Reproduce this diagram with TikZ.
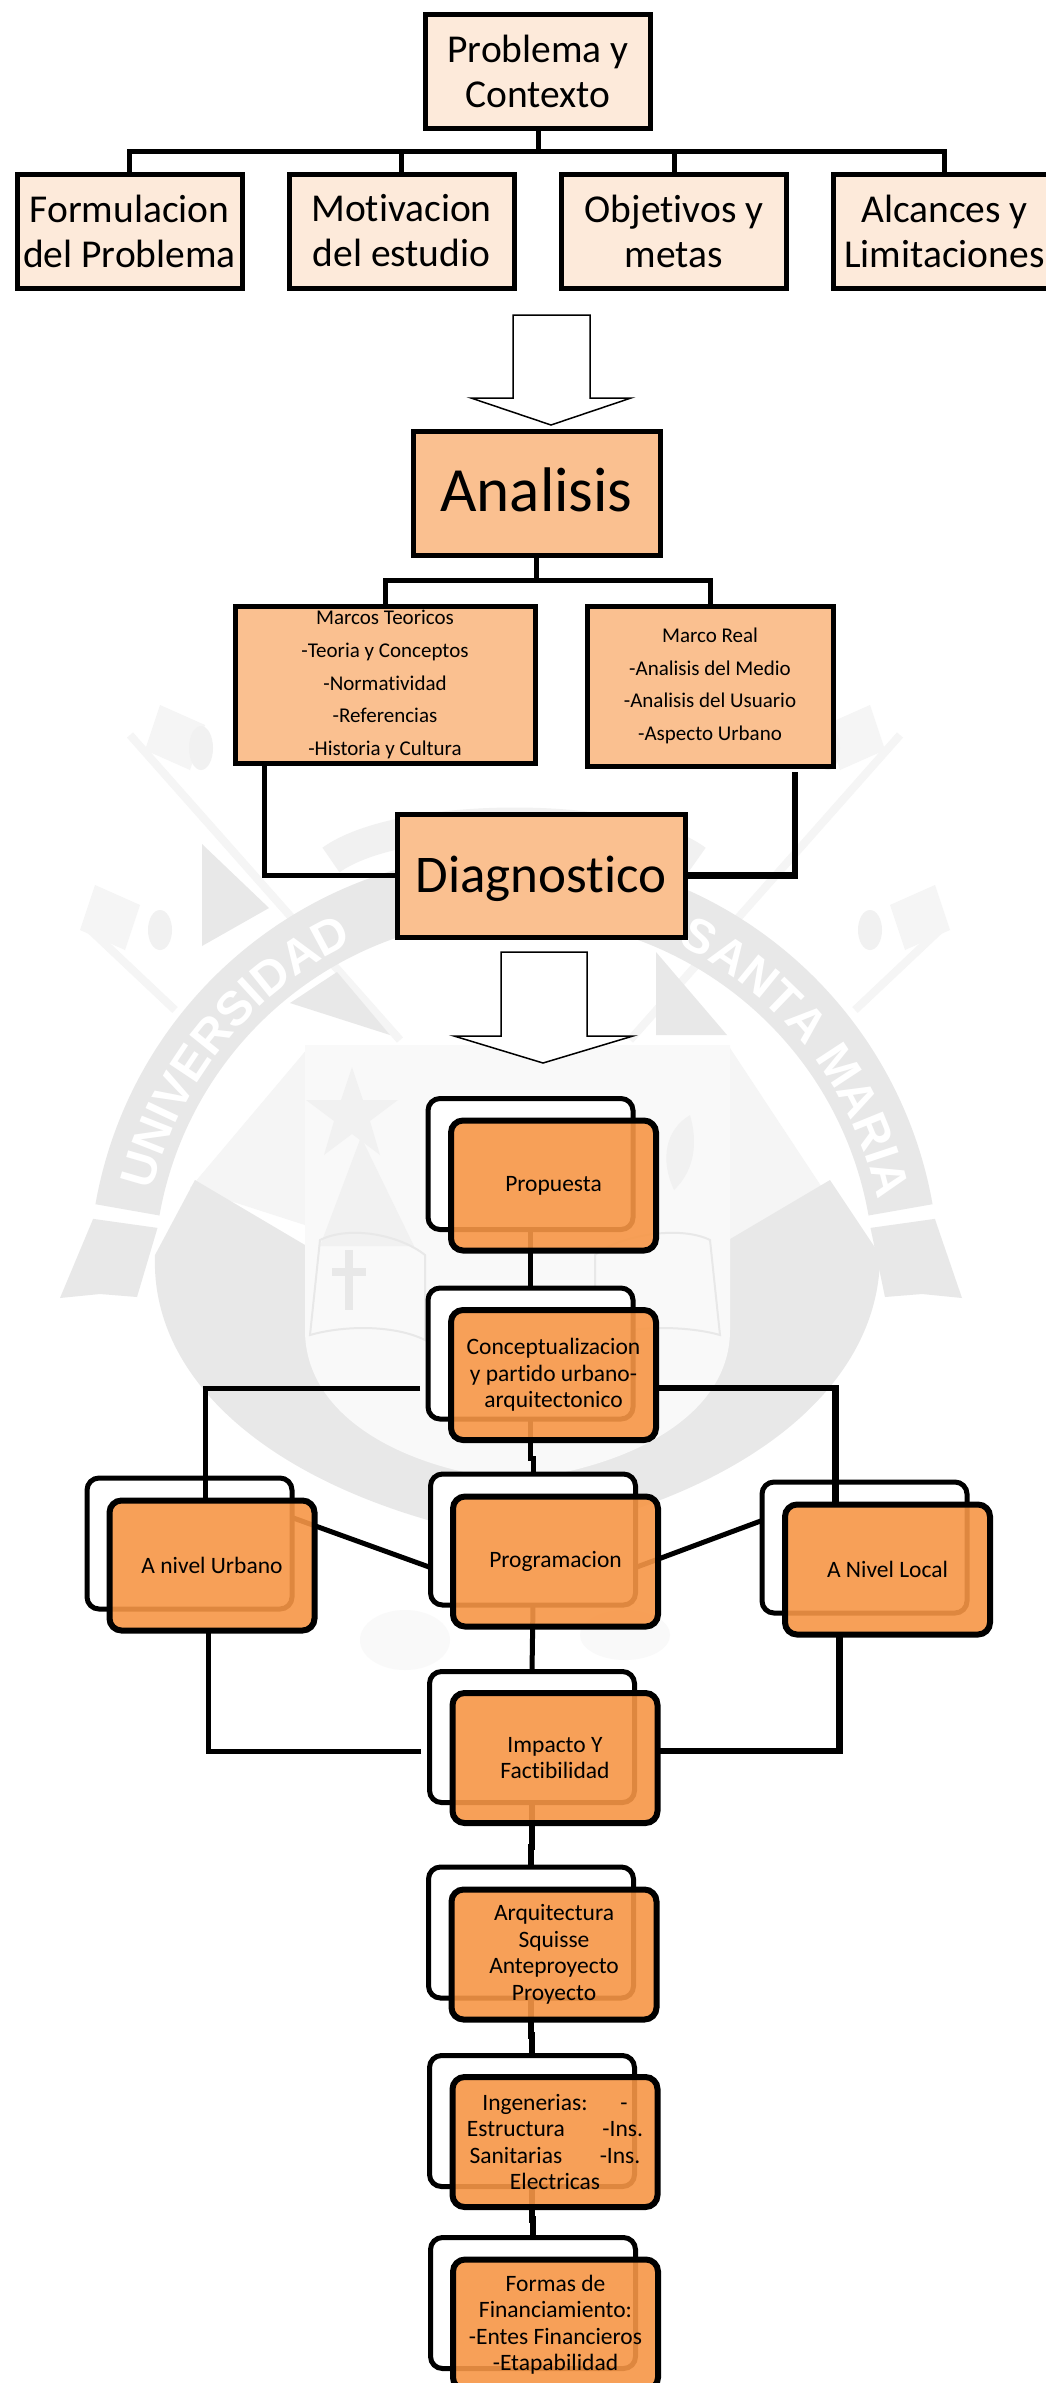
\documentclass[tikz,border=0pt]{standalone}
\usepackage{fontspec}
\setmainfont[Ligatures=NoCommon]{Carlito}
\newfontfamily\wmfont{Liberation Sans}
\usetikzlibrary{decorations.text}
\definecolor{lightbox}{HTML}{FDEADA}
\definecolor{midbox}{HTML}{FAC090}
\definecolor{deepbox}{HTML}{F79646}
\definecolor{wmA}{HTML}{E8E8E8}
\definecolor{wmB}{HTML}{F1F1F1}
\definecolor{wmC}{HTML}{F9F9F9}
\definecolor{wmD}{HTML}{F5F5F5}
\tikzset{
  every node/.style={outer sep=0pt,inner sep=0pt,align=center},
  toplabel/.style={font=\fontsize{39.5}{45}\selectfont},
  topbox/.style={draw=black,line width=5pt,fill=lightbox,minimum width=225pt,minimum height=114pt,toplabel},
  midboxA/.style={draw=black,line width=5pt,fill=midbox},
  smalltext/.style={font=\fontsize{21}{32.6}\selectfont},
  backbox/.style={draw=black,line width=5pt,fill=white,rounded corners=12pt,minimum width=205pt,minimum height=131pt},
  frontbox/.style={draw=black,line width=6pt,fill=deepbox,fill opacity=.9,text opacity=1,rounded corners=12pt,minimum width=205pt,minimum height=130pt,font=\fontsize{23.5}{26.5}\selectfont},
  link/.style={draw=black,line width=5pt},
  heavylink/.style={draw=black,line width=6.5pt},
  blockarrow/.style={draw=black,line width=1.5pt,fill=white},
  wmfill/.style={fill=wmA,draw=none},
  wmline/.style={draw=wmD,line width=8pt},
  wmthin/.style={draw=wmA,line width=2pt}
}
\begin{document}
\begin{tikzpicture}[x=1pt,y=-1pt]
\useasboundingbox (0,0) rectangle (1045,2383);
\fill[white] (0,0) rectangle (1045,2383);

% ---------- watermark ----------
\draw[wmline] (130,735) -- (400,1040);
\draw[wmline] (900,735) -- (630,1040);
\draw[wmline] (85,925) -- (175,1010);
\draw[wmline] (945,925) -- (855,1010);
\fill[wmD] (160,705) -- (205,725) -- (190,770) -- (145,750) -- cycle;
\fill[wmD] (870,705) -- (825,725) -- (840,770) -- (885,750) -- cycle;
\fill[wmD] (95,885) -- (140,905) -- (125,950) -- (80,930) -- cycle;
\fill[wmD] (935,885) -- (890,905) -- (905,950) -- (950,930) -- cycle;
\fill[wmB] (201,748) circle[x radius=12pt,y radius=22pt];
\fill[wmB] (828,748) circle[x radius=12pt,y radius=22pt];
\fill[wmB] (160,930) circle[x radius=12pt,y radius=20pt];
\fill[wmB] (870,930) circle[x radius=12pt,y radius=20pt];
\draw[draw=wmB,line width=30pt] (331,860) .. controls (400,810) and (630,810) .. (697,860);
\fill[wmfill] (202,844) -- (269,908) -- (202,946) -- cycle;
\fill[wmfill] (290,1003) -- (337,972) -- (390,1035) -- cycle;
\fill[wmfill] (656,952) -- (727,1035) -- (656,1035) -- cycle;
\fill[wmD] (730,1048) -- (827,1195) -- (730,1246) -- cycle;
\fill[wmD] (308,1048) -- (308,1226) -- (190,1188) -- cycle;
\fill[wmfill] (155,1255) -- (195,1180) -- (305,1245) -- (720,1245) -- (830,1180) -- (880,1255)
  .. controls (880,1390) and (740,1500) .. (514,1540)
  .. controls (290,1500) and (150,1390) .. (155,1255) -- cycle;
\fill[wmC] (405,1640) ellipse[x radius=45pt,y radius=30pt];
\fill[wmC] (625,1635) ellipse[x radius=45pt,y radius=25pt];
\fill[wmC] (305,1045) -- (730,1045) -- (730,1330)
  .. controls (730,1420) and (620,1470) .. (514,1480)
  .. controls (410,1470) and (305,1420) .. (305,1330) -- cycle;
\fill[wmB] (352,1067) -- (363,1100) -- (398,1100) -- (370,1121) -- (380,1155) -- (352,1134) -- (324,1155) -- (334,1121) -- (306,1100) -- (341,1100) -- cycle;
\fill[wmB] (361,1137) -- (414,1246) -- (320,1246) -- cycle;
\draw[wmthin] (310,1335) -- (320,1240) .. controls (350,1225) and (400,1235) .. (425,1255) -- (425,1340) .. controls (395,1325) and (345,1325) .. (310,1335) -- cycle;
\draw[wmthin] (720,1335) -- (710,1240) .. controls (680,1225) and (620,1235) .. (595,1255) -- (595,1340) .. controls (625,1325) and (685,1325) .. (720,1335) -- cycle;
\fill[wmA] (345,1250) rectangle (353,1310);
\fill[wmA] (332,1268) rectangle (366,1276);
\fill[wmB] (674,1190) .. controls (660,1160) and (665,1130) .. (690,1115) .. controls (700,1150) and (690,1175) .. (674,1190) -- cycle;
\begin{scope}[shift={(514,1278)},x=1pt,y=1pt]
  \fill[wmA] (170:425) arc[start angle=170,end angle=10,radius=425] -- (10:360) arc[start angle=10,end angle=170,radius=360] -- cycle;
  \fill[wmA] (172:425) -- (-454,-20) -- (-414,-16) -- (-377,-19) -- (172:360) -- cycle;
  \fill[wmA] (8:425) -- (448,-20) -- (408,-16) -- (371,-19) -- (8:360) -- cycle;
  \path[decorate,decoration={text along path,text align=center,text color=white,
    text={|\wmfont\bfseries\fontsize{48}{48}\selectfont|UNIVERSIDAD}}]
    (169:372) arc[start angle=169,end angle=113,radius=372];
  \path[decorate,decoration={text along path,text align=center,text color=white,
    text={|\wmfont\bfseries\fontsize{48}{48}\selectfont|SANTA MARIA}}]
    (66:372) arc[start angle=66,end angle=10,radius=372];
\end{scope}

% ---------- top block ----------
\node[topbox] (prob) at (538,71) {Problema y\\Contexto};
\node[topbox] (form) at (129.5,231) {Formulacion\\del Problema};
\node[topbox] (moti) at (401.5,231) {Motivacion\\del estudio};
\node[topbox] (obje) at (674,231) {Objetivos y\\metas};
\node[topbox,minimum width=223pt] (alca) at (944.5,231) {Alcances y\\Limitaciones};
\coordinate (busA) at (537,151);
\draw[link] (prob.south) -- (prob.south |- busA);
\draw[link] (form.north) |- (busA);
\draw[link] (moti.north) |- (busA);
\draw[link] (obje.north) |- (busA);
\draw[link] (alca.north) |- (busA);

\draw[blockarrow] (513,315) -- (590,315) -- (590,398) -- (631,398) -- (551,425) -- (471,398) -- (513,398) -- cycle;

% ---------- analysis block ----------
\node[midboxA,minimum width=247pt,minimum height=124pt] (anal) at (536.5,493) {};
\node[font=\fontsize{63}{70}\selectfont] (analt) at ([yshift=3pt]anal.center) {Analisis};
\node[midboxA,minimum width=300pt,minimum height=157pt] (marc) at (385,684.5) {};
\node[smalltext] (marct) at (marc.center) {Marcos Teoricos\\-Teoria y Conceptos\\-Normatividad\\-Referencias\\-Historia y Cultura};
\node[midboxA,minimum width=246pt,minimum height=160pt] (real) at (710,686) {};
\node[smalltext] (realt) at (real.center) {Marco Real\\-Analisis del Medio\\-Analisis del Usuario\\-Aspecto Urbano};
\coordinate (busB) at (537,580);
\draw[link] (anal.south) -- (anal.south |- busB);
\draw[link] (marc.north) |- (busB);
\draw[link] (real.north) |- (busB);
\node[midboxA,minimum width=288pt,minimum height=123pt] (diag) at (541,875.5) {};
\node[font=\fontsize{53}{60}\selectfont] (diagt) at ([yshift=-3pt]diag.center) {Diagnostico};
\draw[link] ([xshift=-121pt]marc.south) |- (diag.west);
\coordinate (realend) at ([xshift=85pt,yshift=-6pt]real.south);
\draw[heavylink] (realend) |- (diag.east);

\draw[blockarrow] (501,952) -- (587,952) -- (587,1036) -- (633,1036) -- (543,1063) -- (454,1036) -- (501,1036) -- cycle;

% ---------- proposal block: back plates ----------
\node[backbox] (propb) at (530.5,1164) {};
\node[backbox] (concb) at (530.5,1353.5) {};
\node[backbox] (progb) at (533,1539.5) {};
\node[backbox] (urbb) at (189.5,1543.5) {};
\node[backbox] (locb) at (864.5,1547.5) {};
\node[backbox] (impb) at (532,1737) {};
\node[backbox] (arqb) at (531,1932.5) {};
\node[backbox] (ingb) at (532,2121) {};
\node[backbox] (forb) at (533,2303) {};

% connectors under the front plates
\draw[link] (propb.south) -- (concb.north);
\draw[link] (concb.south) |- ([yshift=16pt]progb.north) -- (progb.north);
\draw[link] (progb.south) -- (impb.north);
\draw[heavylink] (impb.south) |- ([yshift=20pt]arqb.north) -- (arqb.north);
\draw[heavylink] (arqb.south) |- ([yshift=20pt]ingb.north) -- (ingb.north);
\draw[heavylink] (ingb.south) |- ([yshift=18pt]forb.north) -- (forb.north);
\draw[link] ([yshift=26pt]urbb.east) -- ([yshift=-28pt]progb.west);
\draw[link] ([yshift=-28pt]progb.east) -- ([yshift=27pt]locb.west);

% front plates
\node[frontbox] (propf) at (553.5,1185.5) {Propuesta};
\node[frontbox] (concf) at (553.5,1375) {Conceptualizacion\\y partido urbano-\\arquitectonico};
\node[frontbox] (progf) at (555.5,1561.5) {Programacion};
\node[frontbox] (urbf) at (212,1565.5) {A nivel Urbano};
\node[frontbox] (locf) at (887.5,1569.5) {A Nivel Local};
\node[frontbox] (impf) at (555,1758) {Impacto Y\\Factibilidad};
\node[frontbox] (arqf) at (554,1954.5) {Arquitectura\\Squisse\\Anteproyecto\\Proyecto};
\node[frontbox] (ingf) at (555,2142) {Ingenerias:\hspace{1.4em}-\\Estructura\hspace{1.6em}-Ins.\\Sanitarias\hspace{1.6em}-Ins.\\Electricas};
\node[frontbox] (forf) at (555.5,2324.5) {Formas de\\Financiamiento:\\-Entes Financieros\\-Etapabilidad};

% connectors above the plates
\coordinate (concleft) at (420,1388);
\draw[link] (concleft) -| ([xshift=-7pt]urbf.north);
\draw[heavylink] ([yshift=-13pt]concf.east) -| ([xshift=-52pt]locf.north);
\coordinate (impleft) at (421,1751);
\draw[link] (impleft) -| ([xshift=-4pt]urbf.south);
\draw[heavylink] ([yshift=7pt]impf.east) -| ([xshift=-48pt]locf.south);
\end{tikzpicture}
\end{document}
